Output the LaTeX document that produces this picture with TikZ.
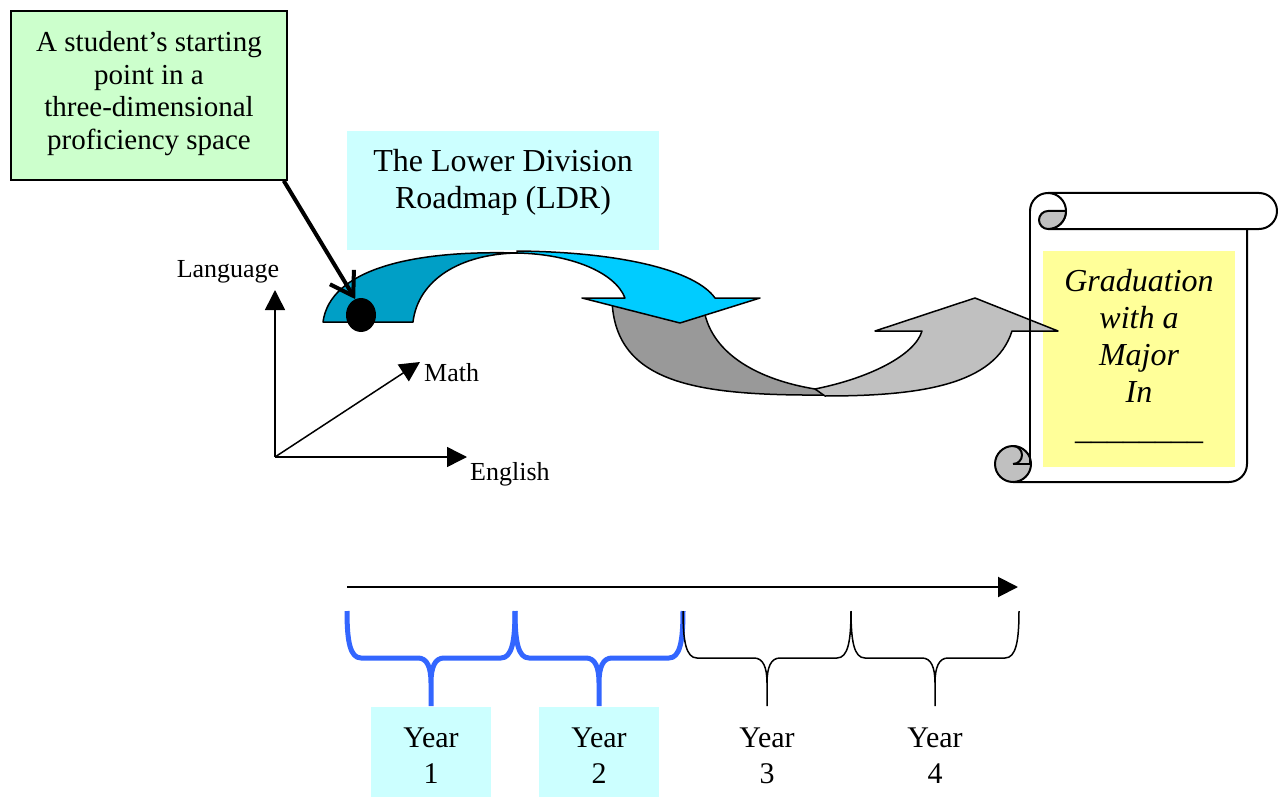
\documentclass[tikz,border=0pt]{standalone}
\usepackage{fontspec}
\setmainfont{Liberation Serif}
\usetikzlibrary{arrows.meta,positioning,shapes.geometric}
\definecolor{ldrcyan}{HTML}{CCFFFF}
\definecolor{notegreen}{HTML}{CCFFCC}
\definecolor{diplomayellow}{HTML}{FFFF99}
\definecolor{arcteal}{HTML}{009FC6}
\definecolor{arccyan}{HTML}{00CCFF}
\definecolor{arcgray}{HTML}{999999}
\definecolor{arclight}{HTML}{C0C0C0}
\definecolor{yearblue}{HTML}{3366FF}

\begin{document}
\begin{tikzpicture}[x=1pt,y=-1pt,
    >={Triangle[length=20pt,width=20pt]},
    box/.style={align=center,inner sep=0pt},
    note/.style={box,draw,line width=1.5pt,fill=notegreen,minimum width=276pt,
                 minimum height=169pt},
    notetext/.style={box,yshift=2pt,font=\fontsize{29}{32.7}\selectfont},
    title/.style={box,fill=ldrcyan,minimum width=312pt,minimum height=119pt},
    titletext/.style={box,yshift=8pt,font=\fontsize{32}{37}\selectfont},
    diploma/.style={box,fill=diplomayellow,minimum width=192pt,minimum height=216pt},
    diplomatext/.style={box,yshift=3pt,font=\fontsize{32}{37}\selectfont\itshape},
    yearbox/.style={box,minimum width=120pt,minimum height=90pt},
    yeartext/.style={box,yshift=-4pt,font=\fontsize{30}{36}\selectfont},
    axislabel/.style={inner sep=0pt,font=\fontsize{26}{30}\selectfont},
    axis/.style={->,line width=1.5pt},
    band/.style={draw,line width=1.5pt,line join=round},
    scroll/.style={line width=2pt,line join=round},
    bluebrace/.style={yearblue,line width=5pt,line join=round},
    blackbrace/.style={black,line width=1.5pt},
    pics/yearbrace/.style={code={
      \draw[#1] (0,0) .. controls (0,30) and (3,47) .. (14,47) -- (71,47)
        .. controls (80,47) and (84,56) .. (84,72) -- (84,95)
        (84,72) .. controls (84,56) and (88,47) .. (97,47) -- (154,47)
        .. controls (165,47) and (168,30) .. (168,0);}}]
  \useasboundingbox (0,0) rectangle (1278,797);

  % boxes
  \node[note,label={[notetext]center:{A student’s starting\\point in a\\three-dimensional\\proficiency space}}]
       (start) at (149,95.5) {};
  \node[title,label={[titletext]center:{The Lower Division\\Roadmap (LDR)}}]
       (ldr) at (503,190.5) {};
  \node[diploma,label={[diplomatext]center:{Graduation\\with a\\Major\\In\\\_\_\_\_\_\_\_\_}}]
       (grad) at (1139,359) {};

  % proficiency axes
  \coordinate (O) at (275,457);
  \coordinate (langtip) at (275,290);
  \coordinate (engtip) at (467,457);
  \coordinate (mathtip) at (420,362);
  \draw[axis] (O) -- (langtip);
  \draw[axis] (O) -- (engtip);
  \draw[axis] (O) -- (mathtip);
  \node[axislabel] (lang) at (228,272) {Language};
  \node[axislabel,anchor=west] (math) at (424,373) {Math};
  \node[axislabel,anchor=west] (eng) at (470,474) {English};

  % curved roadmap arrows
  \path[band,fill=arcgray] (612,300) .. controls (615,385) and (700,396) .. (830,395)
    -- (815,389) .. controls (760,380) and (712,355) .. (704,310) -- cycle;
  \path[band,fill=arclight] (815,389) .. controls (870,378) and (915,355) .. (922,331)
    -- (875,331) -- (975,298) -- (1058,331) -- (1012,331)
    .. controls (995,385) and (920,396) .. (825,396) -- cycle;
  \path[band,fill=arcteal] (323,322) -- (413,322)
    .. controls (418,280) and (460,254) .. (517,253)
    .. controls (410,250) and (330,270) .. (323,322) -- cycle;
  \path[band,fill=arccyan] (517,251) .. controls (620,252) and (695,270) .. (715,298)
    -- (760,298) -- (680,323) -- (582,298) -- (625,298)
    .. controls (615,272) and (570,254) .. (517,253) -- cycle;

  % starting point
  \node[ellipse,fill=black,minimum width=30pt,minimum height=34pt,inner sep=0pt]
       (dot) at (361,315) {};
  \draw[-{Straight Barb[length=22pt,width=28pt]},line width=4pt]
       ([xshift=-4pt]start.south east) -- (dot.110);

  % scroll
  \draw[scroll] (1030,211) arc[start angle=180,end angle=270,radius=18]
    -- (1259,193) arc[start angle=-90,end angle=90,radius=18] -- (1048,229);
  \draw[scroll] (1048,193) arc[start angle=-90,end angle=90,radius=18];
  \draw[scroll,fill=arclight] (1048,229) arc[start angle=90,end angle=270,radius=9]
    -- (1066,211) arc[start angle=0,end angle=90,radius=18] -- cycle;
  \draw[scroll] (1247,229) -- (1247,464) arc[start angle=0,end angle=90,radius=18]
    -- (1013,482);
  \draw[scroll,fill=arclight] (1013,464) circle[radius=18];
  \draw[scroll] (1030,211) -- (1030,464);
  \draw[scroll] (1013,464) arc[start angle=90,end angle=-90,radius=9];
  \draw[scroll] (1013,464) -- (1030,464);

  % time line
  \coordinate (t0) at (347,587);
  \coordinate (t1) at (1018,587);
  \draw[->,line width=2pt] (t0) -- (t1);
  \pic at (347,611) {yearbrace=bluebrace};
  \pic at (515,611) {yearbrace=bluebrace};
  \pic at (683,611) {yearbrace=blackbrace};
  \pic at (851,611) {yearbrace=blackbrace};
  \node[yearbox,fill=ldrcyan,label={[yeartext]center:{Year\\1}}] (year1) at (431,752) {};
  \node[yearbox,fill=ldrcyan,label={[yeartext]center:{Year\\2}}] (year2) at (599,752) {};
  \node[yearbox,label={[yeartext]center:{Year\\3}}] (year3) at (767,752) {};
  \node[yearbox,label={[yeartext]center:{Year\\4}}] (year4) at (935,752) {};
\end{tikzpicture}
\end{document}
